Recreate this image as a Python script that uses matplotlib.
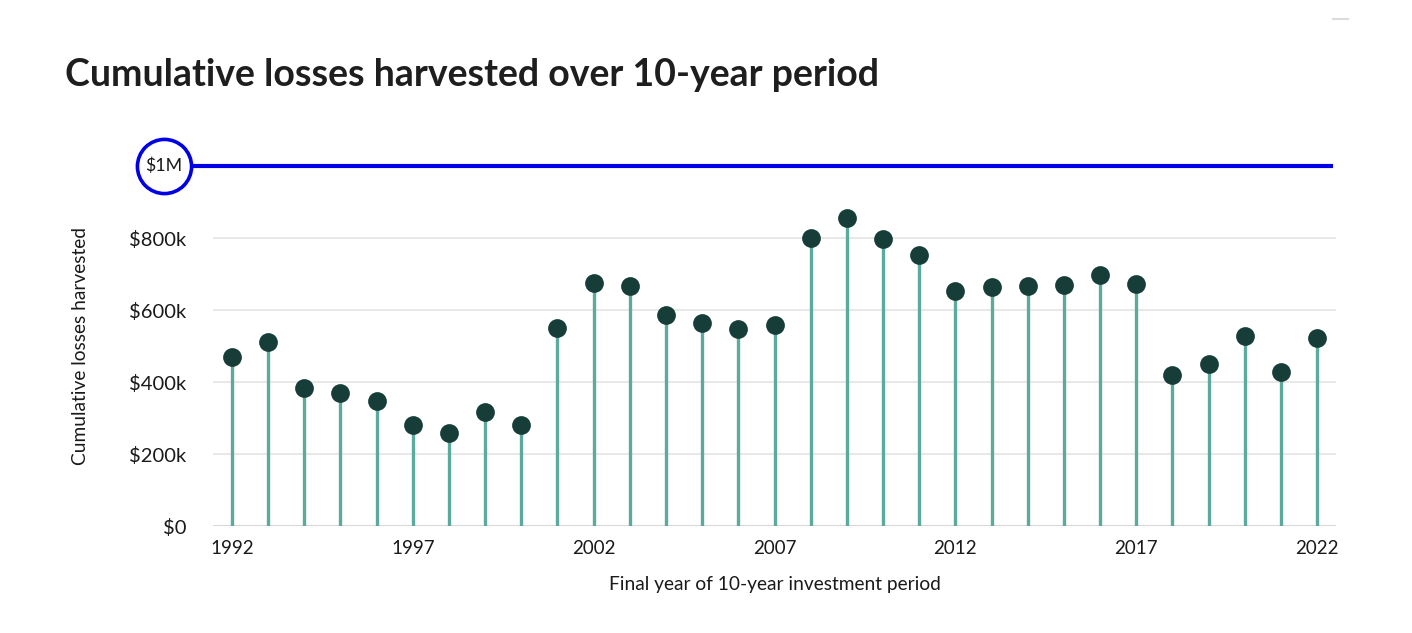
import matplotlib
matplotlib.use("Agg")
import matplotlib.pyplot as plt
from matplotlib.lines import Line2D
from matplotlib.ticker import FuncFormatter

years = list(range(1992, 2023))
losses_k = [469, 511, 383, 369, 347, 281, 258, 317, 281, 550,
            675, 667, 586, 564, 547, 558, 800, 856, 797, 753,
            653, 664, 667, 669, 697, 672, 419, 450, 528, 428, 522]
yticks = [0, 200, 400, 600, 800]
xticks = [1992, 1997, 2002, 2007, 2012, 2017, 2022]
benchmark_k = 1000
title = "Cumulative losses harvested over 10-year period"
ylabel = "Cumulative losses harvested"
xlabel = "Final year of 10-year investment period"

plt.rcParams['font.family'] = ['Lato', 'DejaVu Sans']

W, H = 1412, 633
fig = plt.figure(figsize=(W / 100, H / 100), dpi=100)
ax = fig.add_axes([213 / W, (H - 526) / H, (1336 - 213) / W, (526 - 166) / H])

ax.set_xlim(1991.475, 2022.525)
ax.set_ylim(0, benchmark_k)

ax.vlines(years, 0, losses_k, color="#5aaa9e", linewidth=2.4, zorder=2)
ax.plot(years, losses_k, "o", color="#173d39", markersize=13.5, zorder=3,
        markeredgewidth=0)

for t in yticks[1:]:
    ax.axhline(t, color="#e4e4e4", linewidth=1.2, zorder=1)
ax.axhline(0, color="#d8d8d8", linewidth=2.2, zorder=1)

for s in ax.spines.values():
    s.set_visible(False)
ax.set_yticks(yticks)
ax.yaxis.set_major_formatter(FuncFormatter(lambda v, p: "$0" if v == 0 else f"${int(v)}k"))
ax.set_xticks(xticks)
ax.tick_params(axis="both", length=0, colors="#1a1a1a")
ax.tick_params(axis="y", pad=19, labelsize=14.5)
ax.tick_params(axis="x", pad=10, labelsize=13.5)

ax.set_xlabel(xlabel, fontsize=13.8, color="#1a1a1a", labelpad=14)
ax.set_ylabel(ylabel, fontsize=13.8, color="#1a1a1a", labelpad=29)

# benchmark line + circle label
ax.plot([1991.475 - (213 - 191) / 36.17, 2022.525 - 3 / 36.17], [benchmark_k, benchmark_k],
        color="#0000e6", linewidth=3, clip_on=False, zorder=4, solid_capstyle="butt")
fig.lines.append(Line2D([164 / W], [(H - 166) / H], marker="o", markersize=39,
                        markerfacecolor="white", markeredgecolor="#0000e6",
                        markeredgewidth=2.6, transform=fig.transFigure))
fig.text(164 / W, (H - 166) / H, "$1M", ha="center", va="center", fontsize=12.8,
         color="#1a1a1a")

fig.text(65 / W, (H - 75) / H, title, ha="left", va="center", fontsize=27,
         fontweight="bold", color="#1e1e1e")

fig.lines.append(Line2D([1333 / W, 1348 / W], [(H - 19) / H] * 2, color="#dcdcdc",
                        linewidth=1.5, transform=fig.transFigure))

fig.savefig("out.png", dpi=100, facecolor="white")
